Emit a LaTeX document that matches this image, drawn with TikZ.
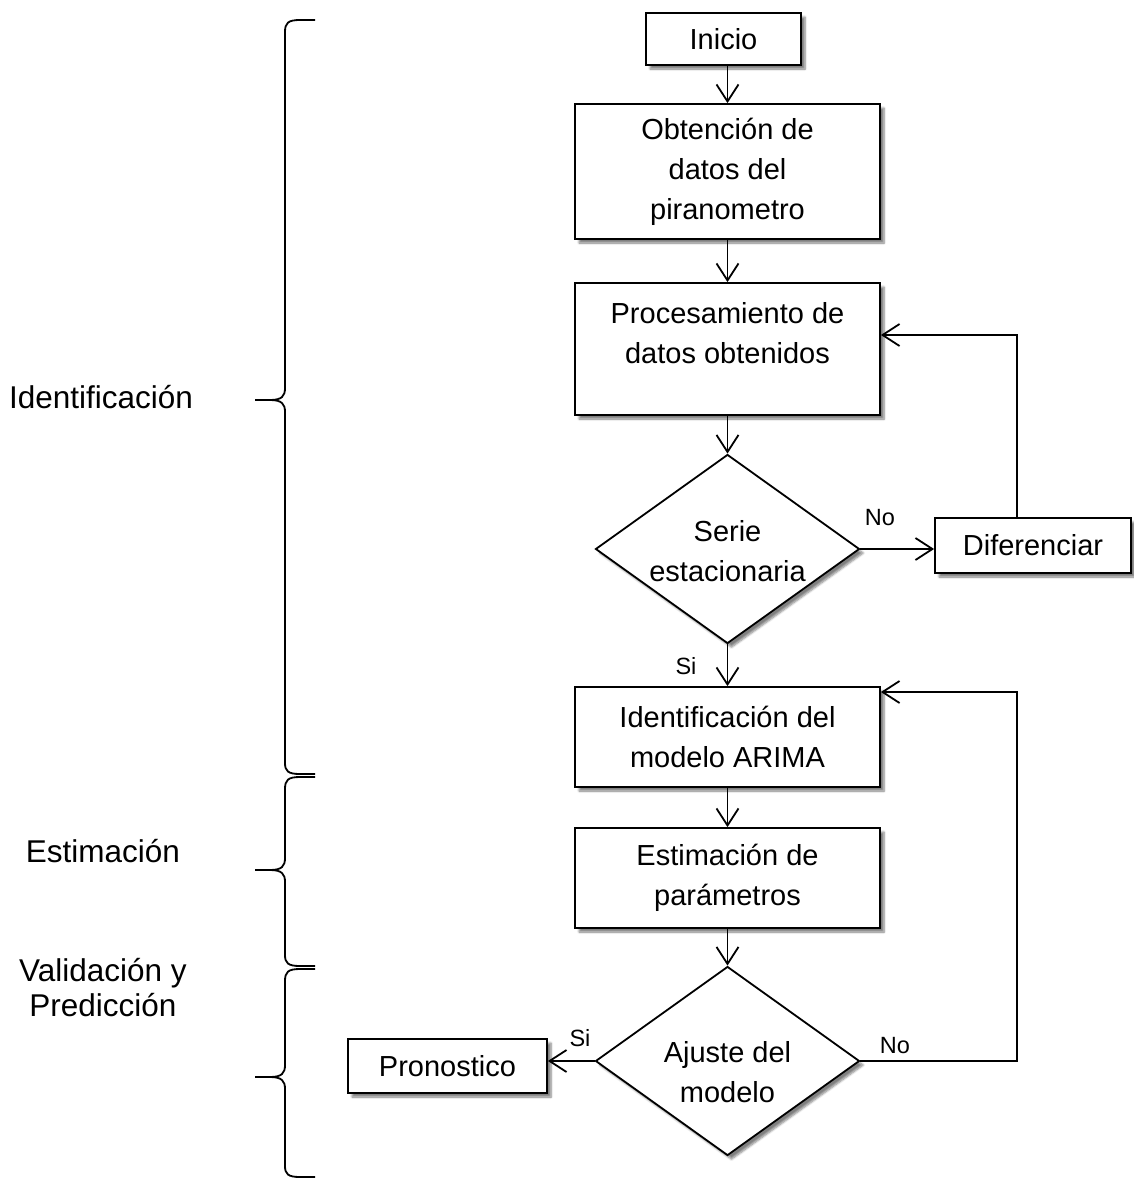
\documentclass[tikz,border=0pt]{standalone}
\usepackage{fontspec}
\setmainfont{Liberation Sans}
\usetikzlibrary{shapes.geometric,arrows.meta,shadows.blur}

\tikzset{every picture/.style={line width=1.8pt}}
\tikzset{
  boxshadow/.style={blur shadow={shadow xshift=4pt,shadow yshift=-4pt,shadow blur steps=6,shadow opacity=50}},
  process/.style={draw, fill=white, align=center, boxshadow, font=\fontsize{29}{40}\selectfont},
  decision/.style={draw, fill=white, diamond, inner sep=0pt, minimum width=264, minimum height=189, boxshadow},
  flowtext/.style={align=center, inner sep=0pt, font=\fontsize{29}{40}\selectfont},
  sidetext/.style={align=center, inner sep=0pt, font=\fontsize{31.5}{35}\selectfont},
  choice/.style={inner sep=0pt, font=\fontsize{23.5}{28}\selectfont},
  flow/.style={-{Straight Barb[length=17pt,width=22pt]}},
}

\begin{document}
\begin{tikzpicture}[x=1pt,y=1pt,yscale=-1,xscale=1]
    \useasboundingbox (0,0) rectangle (1133,1183);

    %Shape: Rectangle Inicio
    \draw (723.5,  39) node (inicio) [process, minimum width=155, minimum height=52] {Inicio};

    %Shape: Rectangle Obtencion
    \draw (727.5, 171.5) node (obt) [process, minimum width=305, minimum height=135] {Obtención de\\datos del\\piranometro};

    %Shape: Rectangle Procesamiento
    \draw (727.5, 349) node (proc) [process, minimum width=305, minimum height=132] {};
    \draw (727.5, 333) node (proctxt) [flowtext] {Procesamiento de\\datos obtenidos};

    %Shape: Diamond Serie estacionaria
    \draw (727.5, 549) node (serie) [decision] {};
    \draw (727.5, 551) node (serietxt) [flowtext] {Serie\\estacionaria};

    %Shape: Rectangle Diferenciar
    \draw (1033, 545.5) node (difer) [process, minimum width=196, minimum height=55] {Diferenciar};

    %Shape: Rectangle Identificacion
    \draw (727.5, 737) node (ident) [process, minimum width=305, minimum height=100] {Identificación del\\modelo ARIMA};

    %Shape: Rectangle Estimacion
    \draw (727.5, 878) node (estim) [process, minimum width=305, minimum height=100] {Estimación de\\parámetros};

    %Shape: Diamond Ajuste del modelo
    \draw (727.5,1061) node (ajuste) [decision] {};
    \draw (727.5,1072) node (ajustetxt) [flowtext] {Ajuste del\\modelo};

    %Shape: Rectangle Pronostico
    \draw (447.5,1066) node (prono) [process, minimum width=199, minimum height=54] {Pronostico};

    %Arrows: main flow
    \draw [flow] (inicio.south -| obt.north) -- (obt.north);
    \draw [flow] (obt.south) -- (proc.north);
    \draw [flow] (proc.south) -- (serie.north);
    \draw [flow] (serie.south) -- (ident.north);
    \draw [flow] (ident.south) -- (estim.north);
    \draw [flow] (estim.south) -- (ajuste.north);
    \draw [flow] (serie.east) -- (serie.east -| difer.west);
    \draw [flow] (ajuste.west) -- (ajuste.west -| prono.east);

    %Arrows: feedback loops
    \coordinate (diffloop) at (1017, 335);
    \draw [flow] (difer.north -| diffloop) -- (diffloop) -- (proc.east |- diffloop);
    \coordinate (ajusteloop) at (1017, 692);
    \draw [flow] (ajuste.east) -| (ajusteloop) -- (ident.east |- ajusteloop);

    %Text: branch labels
    \draw (880, 518) node (serieno) [choice] {No};
    \draw (686, 666) node (seriesi) [choice] {Si};
    \draw (580,1038) node (ajustesi) [choice] {Si};
    \draw (895,1046) node (ajusteno) [choice] {No};

    %Shape: Brace Identificacion
    \draw (315,  20) -- (300,  20) .. controls (288,  20) and (285,  23) .. (285,  32) -- (285, 388)
          .. controls (285, 396) and (282, 400) .. (270, 400) -- (255, 400)
          (270, 400) .. controls (282, 400) and (285, 404) .. (285, 412) -- (285, 763)
          .. controls (285, 771) and (288, 774) .. (300, 774) -- (315, 774);

    %Shape: Brace Estimacion
    \draw (315, 777) -- (300, 777) .. controls (288, 777) and (285, 780) .. (285, 789) -- (285, 858)
          .. controls (285, 866) and (282, 870) .. (270, 870) -- (255, 870)
          (270, 870) .. controls (282, 870) and (285, 874) .. (285, 882) -- (285, 955)
          .. controls (285, 963) and (288, 966) .. (300, 966) -- (315, 966);

    %Shape: Brace Validacion
    \draw (315, 969) -- (300, 969) .. controls (288, 969) and (285, 972) .. (285, 981) -- (285,1065)
          .. controls (285,1073) and (282,1077) .. (270,1077) -- (255,1077)
          (270,1077) .. controls (282,1077) and (285,1081) .. (285,1089) -- (285,1166)
          .. controls (285,1174) and (288,1177) .. (300,1177) -- (315,1177);

    %Text: stages
    \draw (101, 397) node (identlbl) [sidetext] {Identificación};
    \draw (103, 851) node (estimlbl) [sidetext] {Estimación};
    \draw (103, 988) node (validlbl) [sidetext] {Validación y\\Predicción};
\end{tikzpicture}
\end{document}
